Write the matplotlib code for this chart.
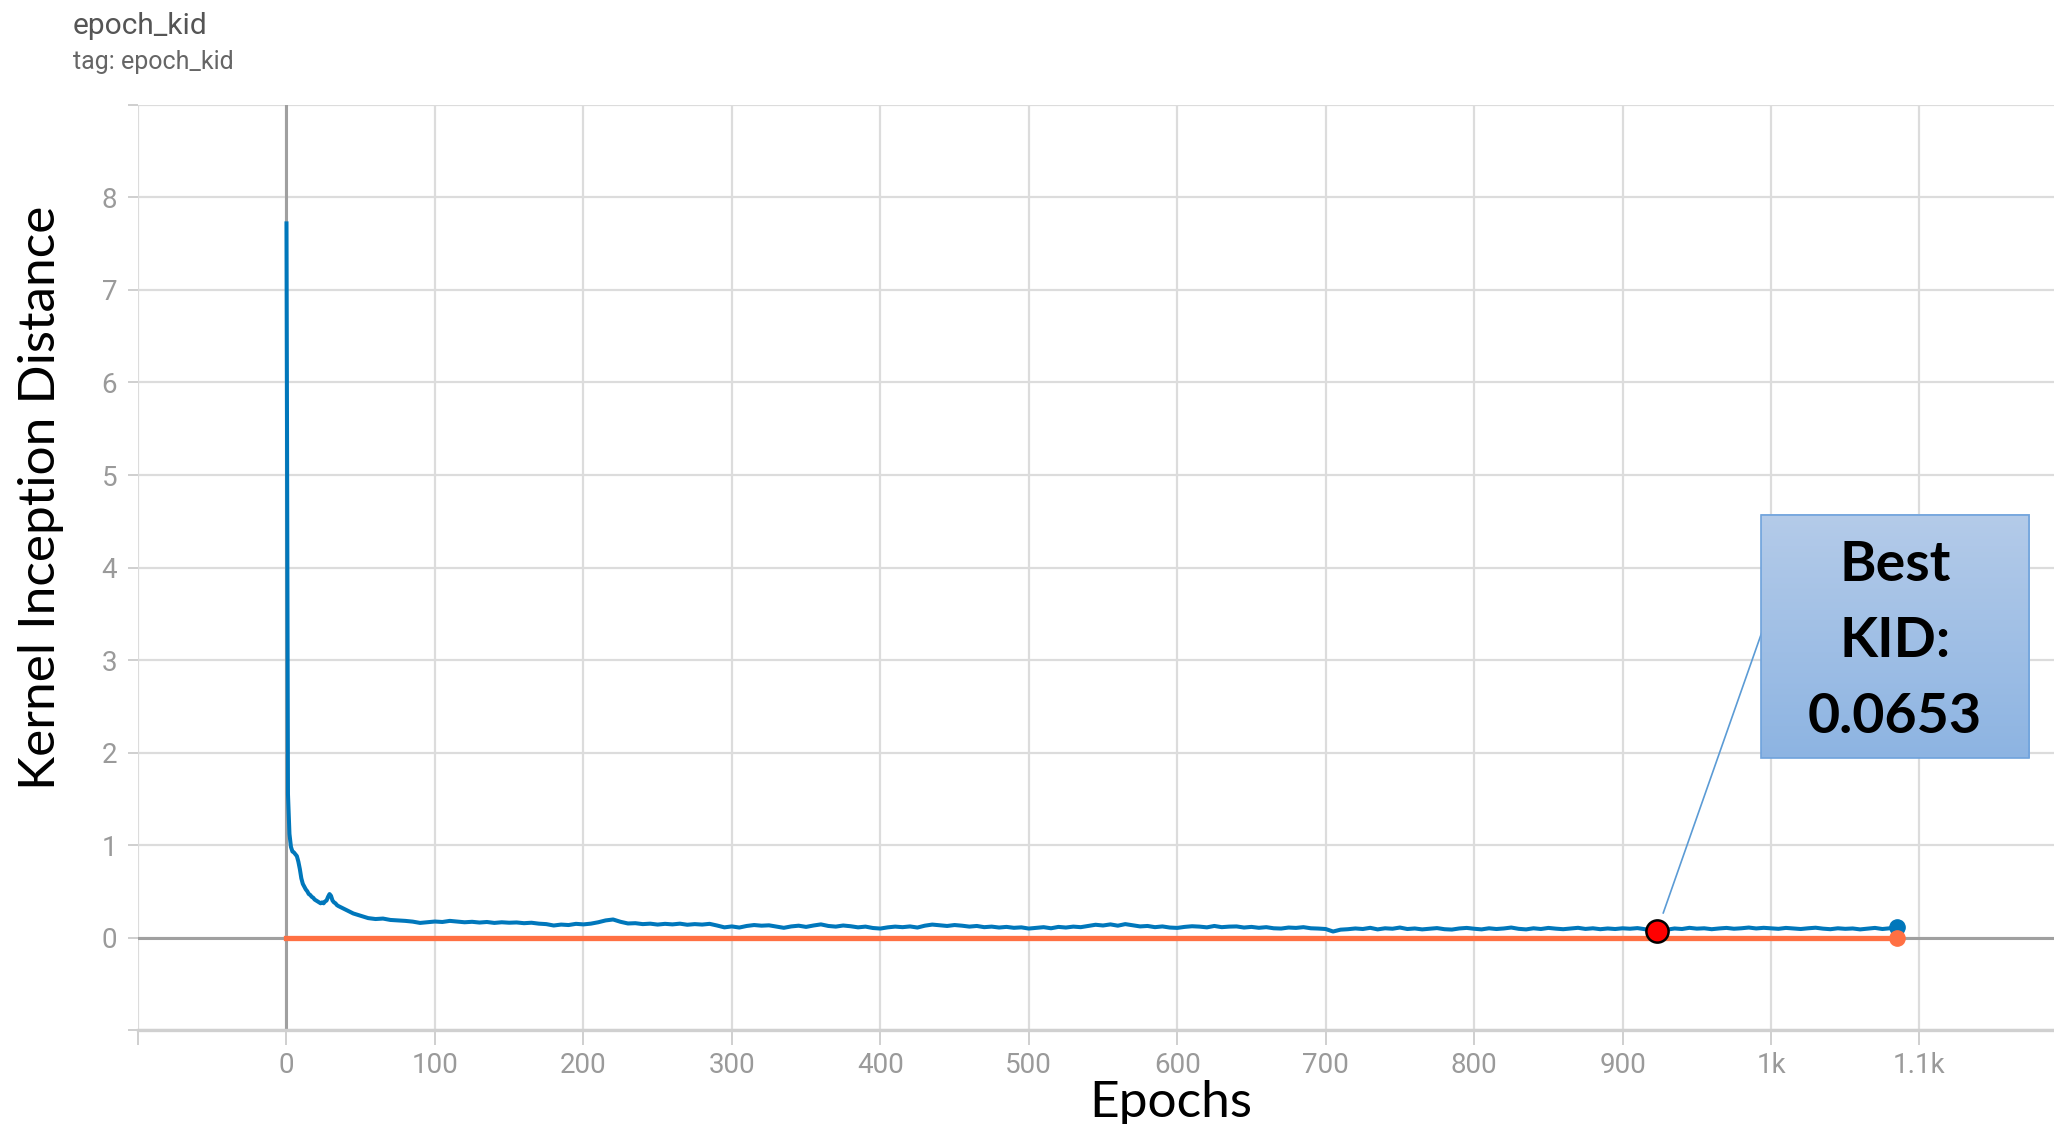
import numpy as np
import matplotlib
matplotlib.use('Agg')
import matplotlib.pyplot as plt
from matplotlib.patches import Rectangle
from matplotlib.colors import LinearSegmentedColormap

# epochs 0..34 one by one, then every 5 epochs up to 1085
epochs_early = list(range(0, 35))
kid_early = [7.72, 1.55, 1.12, 0.98, 0.93, 0.92, 0.90, 0.88, 0.82, 0.74,
             0.64, 0.58, 0.55, 0.52, 0.50, 0.47, 0.46, 0.44, 0.43, 0.41,
             0.40, 0.39, 0.38, 0.37, 0.38, 0.37, 0.39, 0.40, 0.44, 0.47,
             0.45, 0.40, 0.38, 0.37, 0.35]

epochs_late = list(range(35, 1090, 5))
kid_late = [
    0.34, 0.30, 0.26, 0.235, 0.21, 0.20, 0.205, 0.19, 0.185, 0.18,
    0.172, 0.158, 0.165, 0.173, 0.168, 0.18, 0.172, 0.165, 0.17, 0.162,
    0.168, 0.158, 0.165, 0.16, 0.163, 0.155, 0.16, 0.15, 0.145, 0.13,
    0.14, 0.135, 0.148, 0.142, 0.15, 0.165, 0.185, 0.195, 0.17, 0.152,
    0.155, 0.145, 0.15, 0.14, 0.148, 0.142, 0.15, 0.138, 0.145, 0.14,
    0.148, 0.13, 0.11, 0.12, 0.108, 0.125, 0.135, 0.128, 0.132, 0.118,
    0.105, 0.12, 0.128, 0.115, 0.13, 0.142, 0.125, 0.118, 0.13, 0.122,
    0.11, 0.118, 0.103, 0.097, 0.11, 0.118, 0.112, 0.12, 0.108, 0.128,
    0.14, 0.132, 0.125, 0.135, 0.128, 0.118, 0.125, 0.112, 0.118, 0.108,
    0.115, 0.105, 0.11, 0.097, 0.105, 0.112, 0.10, 0.115, 0.108, 0.118,
    0.112, 0.125, 0.138, 0.13, 0.142, 0.128, 0.145, 0.132, 0.12, 0.125,
    0.112, 0.12, 0.108, 0.104, 0.115, 0.122, 0.118, 0.11, 0.125, 0.112,
    0.118, 0.12, 0.108, 0.115, 0.105, 0.112, 0.10, 0.097, 0.108, 0.104,
    0.112, 0.10, 0.097, 0.092, 0.065, 0.085, 0.09, 0.098, 0.092, 0.105,
    0.088, 0.10, 0.095, 0.108, 0.092, 0.098, 0.088, 0.095, 0.102, 0.09,
    0.086, 0.098, 0.104, 0.095, 0.088, 0.10, 0.092, 0.098, 0.108, 0.094,
    0.088, 0.10, 0.092, 0.104, 0.096, 0.09, 0.098, 0.105, 0.093, 0.10,
    0.09, 0.098, 0.092, 0.10, 0.095, 0.102, 0.09, 0.072, 0.068, 0.085,
    0.098, 0.092, 0.105, 0.096, 0.10, 0.09, 0.098, 0.104, 0.095, 0.10,
    0.108, 0.098, 0.105, 0.10, 0.094, 0.104, 0.098, 0.092, 0.10, 0.106,
    0.096, 0.09, 0.10, 0.094, 0.098, 0.088, 0.096, 0.104, 0.092, 0.10,
    0.115]

epochs = epochs_early + epochs_late
kid = kid_early + kid_late

# second (orange) run, flat at zero
orange_epochs = [0, 1085]
orange_vals = [0.0, 0.0]

best_epoch = 923
best_kid = 0.0653

x_ticks = [-100, 0, 100, 200, 300, 400, 500, 600, 700, 800, 900, 1000, 1100]
x_labels = ['', '0', '100', '200', '300', '400', '500', '600', '700', '800', '900', '1k', '1.1k']
y_ticks = [-1, 0, 1, 2, 3, 4, 5, 6, 7, 8, 9]
y_labels = ['', '0', '1', '2', '3', '4', '5', '6', '7', '8', '']

BLUE = '#0077bb'
ORANGE = '#ff7043'
GRID = '#dcdcdc'
TICK_TXT = '#9a9a9a'


def main():
    fig = plt.figure(figsize=(20.54, 11.24), dpi=100)
    ax = fig.add_axes([0.0672, 0.0836, 0.9328, 0.823])

    ax.plot(epochs, kid, color=BLUE, lw=2.9, zorder=4, solid_joinstyle='round')
    ax.plot(orange_epochs, orange_vals, color=ORANGE, lw=3.8, zorder=5)
    ax.plot(epochs[-1], kid[-1], 'o', color=BLUE, ms=11, zorder=6)
    ax.plot(orange_epochs[-1], orange_vals[-1], 'o', color=ORANGE, ms=11, zorder=7)

    # zero lines
    ax.axhline(0, color='#a0a0a0', lw=2.2, zorder=2)
    ax.axvline(0, color='#a0a0a0', lw=2.2, zorder=2)

    ax.set_xlim(-100, 1190.6)
    ax.set_ylim(-1, 9)
    ax.set_xticks(x_ticks)
    ax.set_xticklabels(x_labels)
    ax.set_yticks(y_ticks)
    ax.set_yticklabels(y_labels)
    ax.grid(True, color=GRID, lw=1.6, zorder=0)
    ax.set_axisbelow(True)

    for s in ['top', 'right', 'left']:
        ax.spines[s].set_visible(False)
    ax.spines['bottom'].set_color('#d0d0d0')
    ax.spines['bottom'].set_linewidth(2.4)

    tick_font = ['Roboto', 'DejaVu Sans']
    ax.tick_params(axis='x', direction='out', length=11, width=1.4, color='#cfcfcf',
                   pad=5, labelsize=20, labelcolor=TICK_TXT)
    ax.tick_params(axis='y', direction='out', length=7, width=1.4, color='#cfcfcf',
                   pad=8, labelsize=20, labelcolor=TICK_TXT)
    for lab in ax.get_xticklabels() + ax.get_yticklabels():
        lab.set_family(tick_font)

    # best KID marker and callout
    ax.plot(best_epoch, best_kid, 'o', ms=16, mfc='#ff0000', mec='black', mew=1.8, zorder=9)

    box_x0, box_x1, box_y0, box_y1 = 993, 1174, 1.94, 4.57
    cmap = LinearSegmentedColormap.from_list('callout', ['#8db4e2', '#b4cbe9'])
    grad = np.linspace(0, 1, 256).reshape(-1, 1)
    ax.imshow(grad, cmap=cmap, extent=[box_x0, box_x1, box_y0, box_y1],
              origin='lower', aspect='auto', zorder=10)
    ax.add_patch(Rectangle((box_x0, box_y0), box_x1 - box_x0, box_y1 - box_y0,
                           fill=False, ec='#6fa3dc', lw=1.2, zorder=11))
    ax.set_xlim(-100, 1190.6)
    ax.set_ylim(-1, 9)

    cx = (box_x0 + box_x1) / 2
    for txt, yy in zip(['Best', 'KID:', f'{best_kid:.4f}'], [3.849, 3.03, 2.21]):
        ax.text(cx, yy, txt, ha='center', va='baseline', fontsize=40,
                fontweight='bold', family=['Lato', 'DejaVu Sans'], color='black', zorder=12)

    ax.annotate('', xy=(best_epoch, best_kid), xytext=(box_x0 + 3, 3.40),
                arrowprops=dict(arrowstyle='-', color='#5b9bd5', lw=1.2,
                                shrinkA=0, shrinkB=14), zorder=8)

    # header and axis titles
    fig.text(73 / 2054, 1 - 34 / 1124, 'epoch_kid', fontsize=21.5, color='#555555',
             family=['Roboto', 'DejaVu Sans'], ha='left', va='baseline')
    fig.text(73 / 2054, 1 - 69 / 1124, 'tag: epoch_kid', fontsize=18, color='#666666',
             family=['Roboto', 'DejaVu Sans'], ha='left', va='baseline')
    fig.text(41 / 2054, 1 - 498 / 1124, 'Kernel Inception Distance', rotation=90,
             fontsize=37, family=['Lato', 'DejaVu Sans'], ha='center', va='center')
    fig.text(1171 / 2054, 1 - 1117 / 1124, 'Epochs', fontsize=37,
             family=['Lato', 'DejaVu Sans'], ha='center', va='baseline')

    fig.savefig('out.png', dpi=100, facecolor='white')
    plt.close(fig)


if __name__ == "__main__":
    main()
